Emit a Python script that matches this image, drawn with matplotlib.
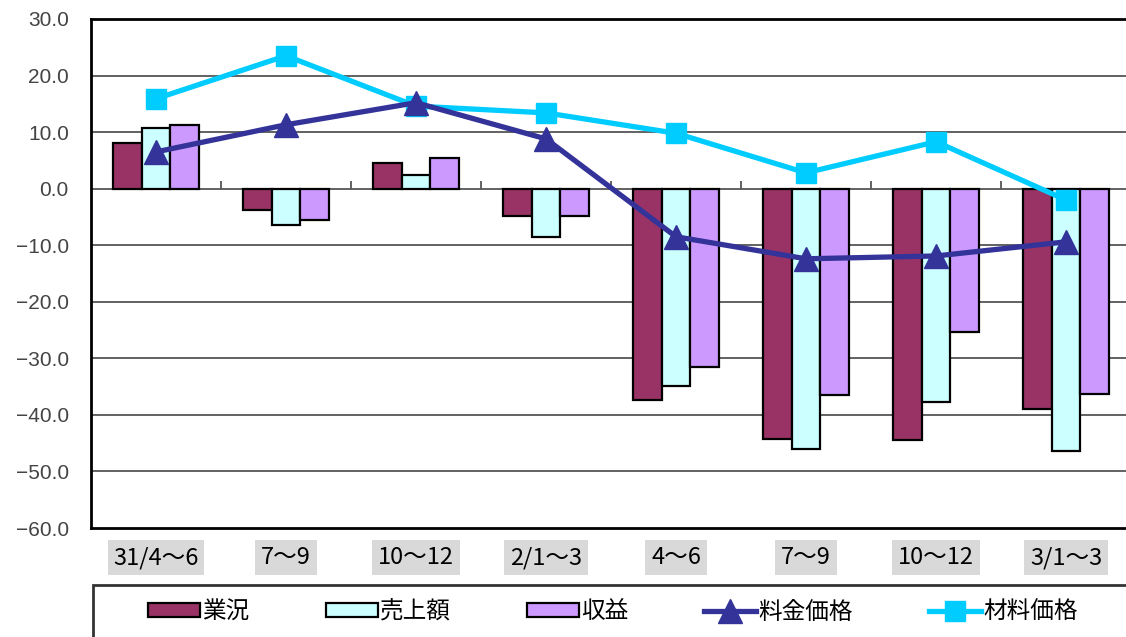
import matplotlib
matplotlib.use("Agg")
import matplotlib.pyplot as plt
import numpy as np
from matplotlib.patches import Rectangle

plt.rcParams['font.family'] = ['Noto Sans CJK JP', 'DejaVu Sans']

categories = ["31/4〜6", "7〜9", "10〜12", "2/1〜3", "4〜6", "7〜9", "10〜12", "3/1〜3"]
gyokyo = [8.1, -3.8, 4.5, -4.8, -37.4, -44.3, -44.5, -39.0]
uriage = [10.7, -6.4, 2.4, -8.5, -34.9, -46.1, -37.7, -46.4]
shueki = [11.3, -5.5, 5.4, -4.8, -31.5, -36.5, -25.4, -36.3]
ryokin = [6.5, 11.3, 15.2, 8.8, -8.5, -12.4, -11.9, -9.4]
zairyo = [15.9, 23.5, 14.6, 13.4, 9.8, 2.8, 8.3, -2.0]
yticks = [30, 20, 10, 0, -10, -20, -30, -40, -50, -60]

fig = plt.figure(figsize=(11.26, 6.37), dpi=100)
ax = fig.add_axes([91/1126, 109/637, (1131-91)/1126, 509/637])

x = np.arange(len(categories))
w = 0.222
bar_kw = dict(edgecolor='black', linewidth=1.6, zorder=3)
b1 = ax.bar(x - w, gyokyo, w, color='#993366', label='業況', **bar_kw)
b2 = ax.bar(x, uriage, w, color='#CCFFFF', label='売上額', **bar_kw)
b3 = ax.bar(x + w, shueki, w, color='#CC99FF', label='収益', **bar_kw)
l1, = ax.plot(x, ryokin, color='#333399', lw=3.8, marker='^', ms=17, zorder=5, label='料金価格')
l2, = ax.plot(x, zairyo, color='#00CCFF', lw=3.8, marker='s', ms=15, zorder=4, label='材料価格')

ax.set_xlim(-0.5, len(categories) - 0.5)
ax.set_ylim(-60, 30)
ax.set_yticks(yticks)
ax.set_yticklabels([f"{v:.1f}".replace('-', '−') for v in yticks],
                   fontsize=15, color='#444444', family=['Liberation Sans', 'DejaVu Sans'])
for v in yticks:
    if v not in (30, -60):
        ax.axhline(v, color='#555555', lw=1.3, zorder=1)
# category boundary ticks on zero line
ax.vlines(np.arange(len(categories) - 1) + 0.5, 0, 1.3, color='#555555', lw=1.3, zorder=2)

ax.set_xticks(x)
ax.set_xticklabels(categories, fontsize=17, color='black')
for t in ax.get_xticklabels():
    t.set_bbox(dict(facecolor='#d9d9d9', edgecolor='none', pad=4))
ax.tick_params(axis='x', length=0, pad=13)
ax.tick_params(axis='y', length=0, pad=16)

for s in ['left', 'bottom', 'top']:
    ax.spines[s].set_linewidth(2)
    ax.spines[s].set_color('black')
ax.spines['right'].set_visible(False)

# legend frame
fig.patches.append(Rectangle((93/1126, -0.01), (1131-93)/1126, (52/637) + 0.01,
                             transform=fig.transFigure, facecolor='white',
                             edgecolor='#333333', lw=2))
leg = fig.legend([b1, b2, b3, l1, l2], ['業況', '売上額', '収益', '料金価格', '材料価格'],
                 loc='center left', bbox_to_anchor=(148/1126, 0.0, (1078-148)/1126, 50/637),
                 mode='expand', ncol=5, frameon=False, fontsize=17,
                 handlelength=2.2, handleheight=0.55, handletextpad=0.1, borderaxespad=0,
                 borderpad=0)

fig.savefig('out.png', dpi=100)
